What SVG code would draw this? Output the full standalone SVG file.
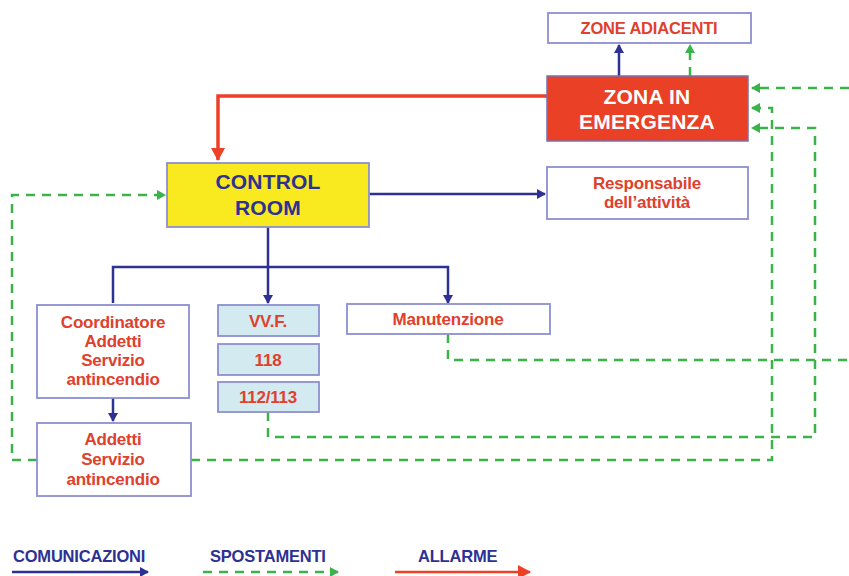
<svg xmlns="http://www.w3.org/2000/svg" width="849" height="576" viewBox="0 0 849 576">
<defs>
<style>
.box{fill:#fff;stroke:#8c8fd0;stroke-width:1.8}
.lb{fill:#d3eaf1;stroke:#8c8fd0;stroke-width:1.8}
.t{font-family:"Liberation Sans",Arial,sans-serif;font-weight:bold;text-anchor:middle;fill:#e0402c;font-size:17px;letter-spacing:-0.2px}
.big{font-size:21px;letter-spacing:0.2px}
.blue{stroke:#2e3192;stroke-width:2.5;fill:none}
.green{stroke:#3bb24a;stroke-width:2.5;fill:none;stroke-dasharray:9,7}
.red{stroke:#ee3f27;stroke-width:3.5;fill:none}
.leg{font-family:"Liberation Sans",Arial,sans-serif;font-weight:bold;font-size:16.5px;fill:#2e3192;letter-spacing:-0.2px}
</style>
<marker id="ab" markerWidth="10" markerHeight="10" refX="8" refY="5" orient="auto" markerUnits="userSpaceOnUse"><path d="M0,0 L9,5 L0,10 Z" fill="#2e3192"/></marker>
<marker id="ag" markerWidth="10" markerHeight="10" refX="8" refY="5" orient="auto" markerUnits="userSpaceOnUse"><path d="M0,0 L9,5 L0,10 Z" fill="#3bb24a"/></marker>
<marker id="ar" markerWidth="16" markerHeight="16" refX="12" refY="8" orient="auto" markerUnits="userSpaceOnUse"><path d="M0,1 L13,8 L0,15 Z" fill="#ee3f27"/></marker>
</defs>

<g id="connectors">
<path class="red" d="M547,96 H218 V160" marker-end="url(#ar)"/>
<path class="blue" d="M619,76 V45" marker-end="url(#ab)"/>
<path class="green" d="M690,76 V45" marker-end="url(#ag)"/>
<path class="blue" d="M369,194 H545" marker-end="url(#ab)"/>
<path class="blue" d="M268,227 V303" marker-end="url(#ab)"/>
<path class="blue" d="M113,303 V267 H448 V303" marker-end="url(#ab)"/>
<path class="blue" d="M113,398 V421" marker-end="url(#ab)"/>
<path class="green" d="M448,334 V360 H849"/>
<path class="green" d="M849,88 H752" marker-end="url(#ag)"/>
<path class="green" d="M268,412 V437 H815 V128 H752" marker-end="url(#ag)"/>
<path class="green" d="M191,460 H772 V108 H752" marker-end="url(#ag)"/>
<path class="green" d="M37,460 H12 V195 H165" marker-end="url(#ag)"/>
</g>

<g id="zone-adiacenti">
<rect class="box" x="548" y="13" width="203" height="30"/>
<text class="t" x="649" y="34" style="font-size:16.5px">ZONE ADIACENTI</text>
</g>
<g id="zona-emergenza">
<rect x="547" y="76" width="201" height="65" fill="#ea4025" stroke="#7a6fb0" stroke-width="1.5"/>
<text class="t big" x="647" y="104" style="fill:#fff">ZONA  IN</text>
<text class="t big" x="647" y="129" style="fill:#fff">EMERGENZA</text>
</g>
<g id="control-room">
<rect x="167" y="163" width="202" height="64" fill="#f8ea1e" stroke="#8c8fd0" stroke-width="1.8"/>
<text class="t big" x="268" y="189" style="fill:#2e3192">CONTROL</text>
<text class="t big" x="268" y="215" style="fill:#2e3192">ROOM</text>
</g>
<g id="responsabile">
<rect class="box" x="547" y="167" width="201" height="52"/>
<text class="t" x="647" y="189">Responsabile</text>
<text class="t" x="647" y="208">dell’attività</text>
</g>
<g id="coordinatore">
<rect class="box" x="37" y="305" width="152" height="93"/>
<text class="t" x="113" y="328">Coordinatore</text>
<text class="t" x="113" y="347">Addetti</text>
<text class="t" x="113" y="366">Servizio</text>
<text class="t" x="113" y="385">antincendio</text>
</g>
<g id="vvf">
<rect class="lb" x="218" y="305" width="101" height="31"/>
<text class="t" x="268" y="327">VV.F.</text>
</g>
<g id="n118">
<rect class="lb" x="218" y="344" width="101" height="31"/>
<text class="t" x="268" y="366">118</text>
</g>
<g id="n112">
<rect class="lb" x="218" y="382" width="101" height="30"/>
<text class="t" x="268" y="403">112/113</text>
</g>
<g id="manutenzione">
<rect class="box" x="347" y="304" width="203" height="30"/>
<text class="t" x="448" y="325">Manutenzione</text>
</g>
<g id="addetti">
<rect class="box" x="37" y="423" width="154" height="73"/>
<text class="t" x="113" y="445">Addetti</text>
<text class="t" x="113" y="465">Servizio</text>
<text class="t" x="113" y="485">antincendio</text>
</g>

<g id="legend">
<text class="leg" x="13" y="562">COMUNICAZIONI</text>
<path class="blue" d="M12,572 H148" marker-end="url(#ab)"/>
<text class="leg" x="210" y="562">SPOSTAMENTI</text>
<path class="green" d="M203,572 H338" marker-end="url(#ag)"/>
<text class="leg" x="418" y="562">ALLARME</text>
<path class="red" style="stroke-width:2.5" d="M395,572 H530" marker-end="url(#ar)"/>
</g>
</svg>
